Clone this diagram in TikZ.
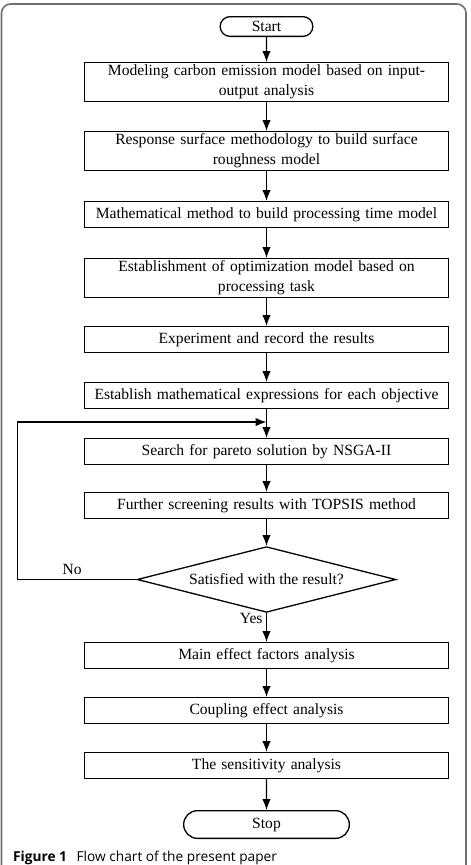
\documentclass[tikz,border=0pt]{standalone}
\usepackage{fontspec}
\setmainfont{Liberation Serif}
\newfontfamily\capfont{Open Sans}
\usetikzlibrary{arrows.meta,positioning,shapes.misc,shapes.geometric,calc}
\definecolor{framegray}{HTML}{707070}

\begin{document}
\begin{tikzpicture}[
    x=1pt, y=1pt,
    font=\fontsize{15.6}{20}\selectfont,
    >={Latex[length=11pt,width=8.5pt]},
    node distance=29pt,
    block/.style={draw, line width=1.3pt, align=center, text width=357pt, minimum width=363.7pt, minimum height=25.7pt, inner sep=1pt},
    tall/.style={block, minimum height=38.7pt},
    term/.style={draw, line width=1.3pt, rounded rectangle, inner sep=0pt},
    decide/.style={draw, line width=1.3pt, diamond, aspect=3.9, inner sep=0pt, minimum width=258.7pt, minimum height=65.7pt},
    line/.style={->, line width=1.3pt}
]
\clip (0,0) rectangle (471,-865);
\useasboundingbox (0,0) rectangle (471,-865);

% outer frame (bottom edge lies below the page)
\draw[framegray, line width=1.6pt, rounded corners=9pt] (1.5,-4) rectangle (466,-900);

% main column
\node[term, minimum width=92.7pt, minimum height=19.7pt] (start) at (266.5,-26.5) {Start};
\node[tall, below=25pt of start] (carbon) {Modeling carbon emission model based on input-\\output analysis};
\node[tall, below=of carbon] (rough) {Response surface methodology to build surface\\roughness model};
\node[block, below=30pt of rough] (time) {Mathematical method to build processing time model};
\node[tall, below=30pt of time] (optim) {Establishment of optimization model based on\\processing task};
\node[block, below=28pt of optim] (exper) {Experiment and record the results};
\node[block, below=29pt of exper] (expr) {Establish mathematical expressions for each objective};
\node[block, below=of expr] (pareto) {Search for pareto solution by NSGA-II};
\node[block, below=27pt of pareto] (topsis) {Further screening results with TOPSIS method};
\node[decide, below=27pt of topsis] (sat) {Satisfied with the result?};
\node[block, below=of sat] (main) {Main effect factors analysis};
\node[block, below=28pt of main] (coupl) {Coupling effect analysis};
\node[block, below=28pt of coupl] (sens) {The sensitivity analysis};
\node[term, minimum width=165.7pt, minimum height=27.7pt, below=31pt of sens] (stop) {Stop};

% caption
\node[anchor=base west, inner sep=0pt, font=\capfont\fontsize{13.7}{16}\selectfont] (cap) at (13,-861)
  {\textbf{Figure 1}\hspace{6pt} Flow chart of the present paper};

% straight arrows
\draw[line] (start) -- (carbon);
\draw[line] (carbon) -- (rough);
\draw[line] (rough) -- (time);
\draw[line] (time) -- (optim);
\draw[line] (optim) -- (exper);
\draw[line] (exper) -- (expr);
\draw[line] (expr) -- (pareto);
\draw[line] (pareto) -- (topsis);
\draw[line] (topsis) -- (sat);
\draw[line] (sat) -- node[left, pos=0.2]{Yes} (main);
\draw[line] (main) -- (coupl);
\draw[line] (coupl) -- (sens);
\draw[line] (sens) -- (stop);

% feedback loop
\coordinate[left=119pt of sat.west] (back);
\coordinate (join) at ($(expr.south)!0.45!(pareto.north)$);
\draw[line] (sat.west) -- node[above=1pt, pos=0.54]{No} (back) |- (join);

\end{tikzpicture}
\end{document}
